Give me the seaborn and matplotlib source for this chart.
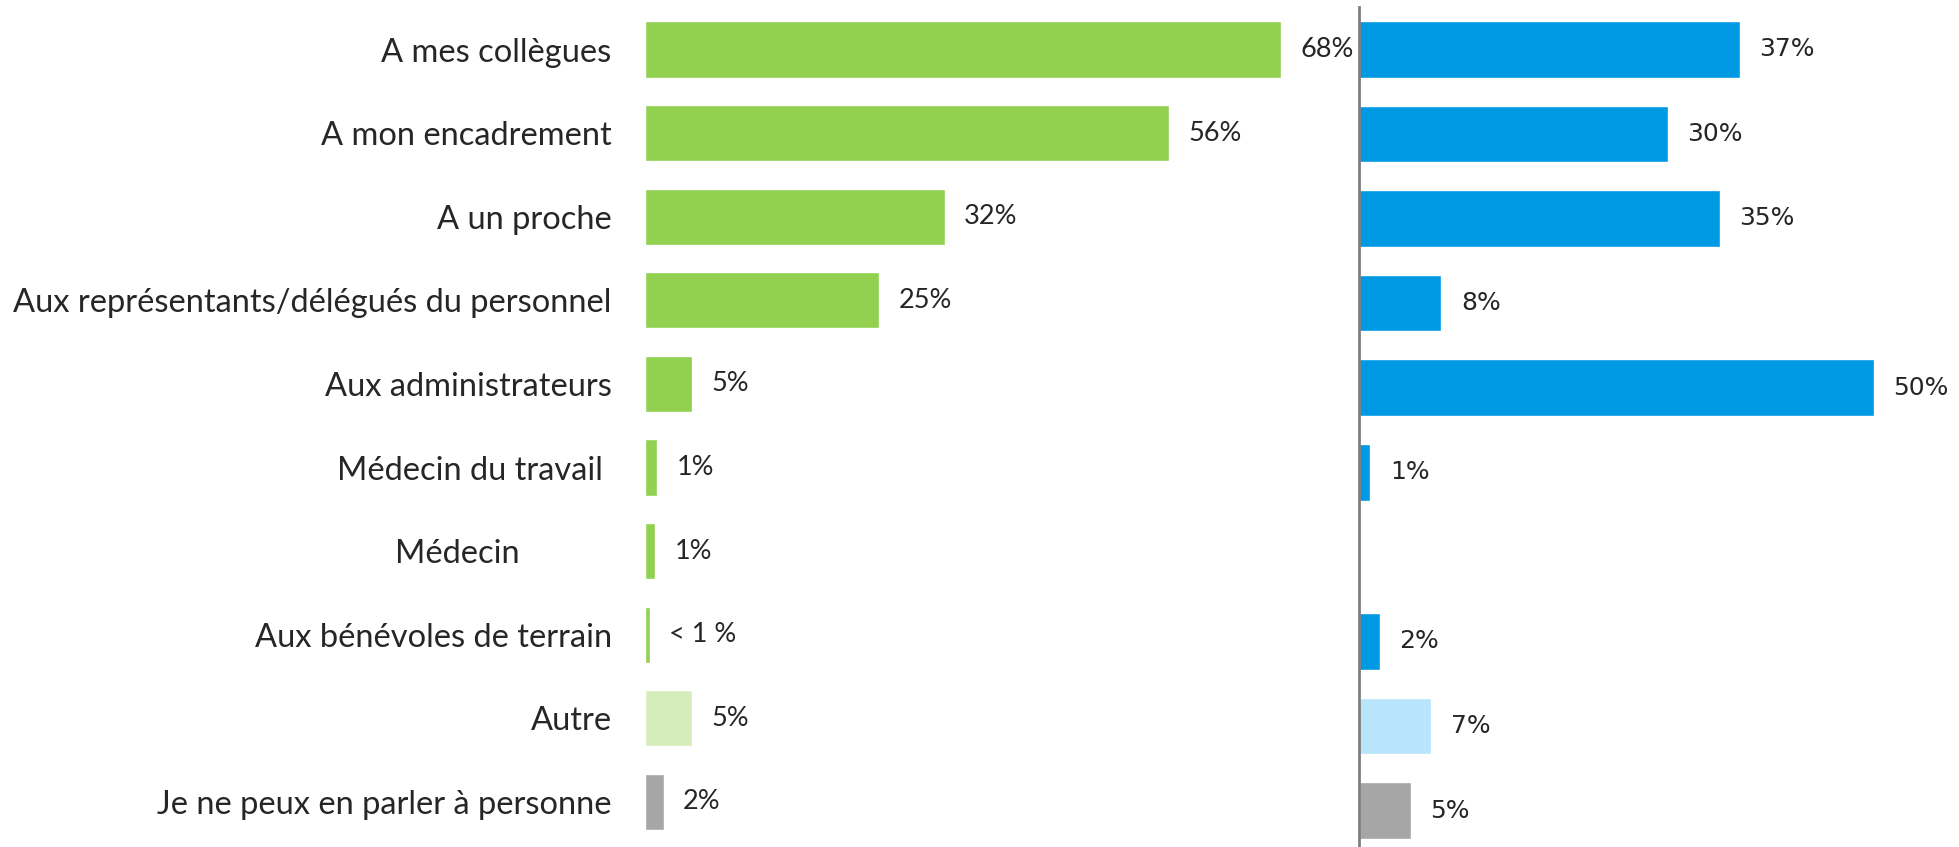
import pandas as pd
import seaborn as sns
import matplotlib
matplotlib.use('Agg')
import matplotlib.pyplot as plt

sns.set_theme(style="white")
plt.rcParams['font.family'] = ['Lato', 'DejaVu Sans']

# data
categories = ["A mes collègues", "A mon encadrement", "A un proche",
              "Aux représentants/délégués du personnel", "Aux administrateurs",
              "Médecin du travail ", "Médecin           ",
              "Aux bénévoles de terrain", "Autre", "Je ne peux en parler à personne"]
left_values = [68, 56, 32, 25, 5, 1.3, 1.1, 0.5, 5, 2]
left_labels = ["68%", "56%", "32%", "25%", "5%", "1%", "1%", "< 1 %", "5%", "2%"]
right_values = [37, 30, 35, 8, 50, 1.1, None, 2, 7, 5]
right_labels = ["37%", "30%", "35%", "8%", "50%", "1%", "", "2%", "7%", "5%"]

green, green_light = "#92D050", "#D5EDBA"
blue, blue_light = "#0099E3", "#B8E5FB"
grey = "#A6A6A6"
left_colors = [green] * 8 + [green_light, grey]
right_colors = [blue] * 8 + [blue_light, grey]

W, H = 1959, 847
fig = plt.figure(figsize=(W / 100, H / 100), dpi=100)

# left panel
ax1 = fig.add_axes([645 / W, 3.3 / H, 700 / W, 836 / H])
df1 = pd.DataFrame({"cat": categories, "val": left_values})
sns.barplot(data=df1, x="val", y="cat", hue="cat", palette=left_colors,
            order=categories, width=0.67, legend=False, ax=ax1, saturation=1)
ax1.set_xlim(0, 700 / 9.36)
ax1.set_ylim(9.5, -0.5)
ax1.set_xlabel("")
ax1.set_ylabel("")
ax1.set_xticks([])
ax1.tick_params(axis="y", length=0, pad=24, labelsize=23.5)
for s in ax1.spines.values():
    s.set_visible(False)
for i, (v, lab) in enumerate(zip(left_values, left_labels)):
    ax1.annotate(lab, (v, i), xytext=(14, 0), textcoords="offset points",
                 va="center", ha="left", fontsize=19.5)

# right panel
ax2 = fig.add_axes([1359 / W, 0, 600 / W, 840 / H])
df2 = pd.DataFrame({"cat": categories, "val": right_values})
sns.barplot(data=df2, x="val", y="cat", hue="cat", palette=right_colors,
            order=categories, width=0.67, legend=False, ax=ax2, saturation=1)
ax2.set_xlim(0, 600 / 10.3)
ax2.set_ylim(9.43, -0.5)
ax2.set_xlabel("")
ax2.set_ylabel("")
ax2.set_xticks([])
ax2.set_yticks([])
for s in ax2.spines.values():
    s.set_visible(False)
ax2.spines["left"].set_visible(True)
ax2.spines["left"].set_color("#7F7F7F")
ax2.spines["left"].set_linewidth(2)
for i, (v, lab) in enumerate(zip(right_values, right_labels)):
    if v is None:
        continue
    ax2.annotate(lab, (v, i), xytext=(14, 0), textcoords="offset points",
                 va="center", ha="left", fontsize=18, family="DejaVu Sans")

plt.savefig("out.png", dpi=100)
plt.close()
